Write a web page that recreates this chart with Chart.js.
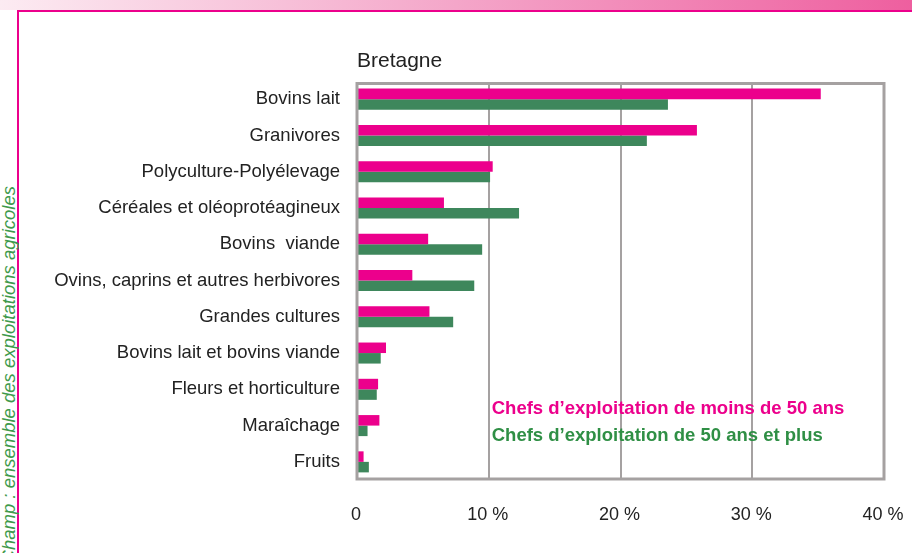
<!DOCTYPE html>
<html>
<head>
<meta charset="utf-8">
<script src="https://cdn.jsdelivr.net/npm/chart.js@4/dist/chart.umd.min.js"></script>
<style>
  html, body { margin: 0; padding: 0; background: #fff; }
  body { width: 912px; height: 553px; position: relative; overflow: hidden; font-family: "Liberation Sans", Arial, sans-serif; }
  .strip { position: absolute; left: 0; top: 0; width: 912px; height: 10px; background: linear-gradient(to right, #fcebf2, #f4a6c9 50%, #ee5f9f); }
  .frame { position: absolute; left: 17px; top: 10px; width: 920px; height: 600px; border-left: 2px solid #ec008c; border-top: 2px solid #ec008c; }
  .champ { position: absolute; left: 0px; top: 186px; writing-mode: vertical-rl; transform: rotate(180deg); font-style: italic; font-size: 18.5px; line-height: 18px; color: #3f9a4c; white-space: nowrap; }
  #wrap { position: absolute; left: 0; top: 0; width: 912px; height: 553px; }
</style>
</head>
<body>
<div class="strip"></div>
<div class="frame"></div>
<div class="champ">Champ : ensemble des exploitations agricoles</div>
<div id="wrap"><canvas id="chart"></canvas></div>
<script>
const categories = [
  'Bovins lait',
  'Granivores',
  'Polyculture-Polyélevage',
  'Céréales et oléoprotéagineux',
  'Bovins  viande',
  'Ovins, caprins et autres herbivores',
  'Grandes cultures',
  'Bovins lait et bovins viande',
  'Fleurs et horticulture',
  'Maraîchage',
  'Fruits'
];
const moins50 = [35.2, 25.8, 10.3, 6.6, 5.4, 4.2, 5.5, 2.2, 1.6, 1.7, 0.5];
const plus50 = [23.6, 22.0, 10.1, 12.3, 9.5, 8.9, 7.3, 1.8, 1.5, 0.8, 0.9];
const xTicks = [0, 10, 20, 30, 40];
const chartTitle = 'Bretagne';
const seriesNames = ["Chefs d’exploitation de moins de 50 ans", "Chefs d’exploitation de 50 ans et plus"];

const PINK = '#ec008c';
const GREEN = '#3e875c';
const GRID = '#a5a1a1';
const FONT = '"Liberation Sans", Arial, sans-serif';

// frame, title and in-plot legend
const extras = {
  id: 'extras',
  afterDatasetsDraw(chart) {
    const ctx = chart.ctx;
    const a = chart.chartArea;
    const x = chart.scales.x;
    const top = a.top + 2.5, bottom = a.bottom - 1;
    ctx.save();
    // trim grid lines poking above the frame
    ctx.fillStyle = '#fff';
    ctx.fillRect(a.left - 2, a.top - 1, a.right - a.left + 4, 2.5);
    ctx.strokeStyle = GRID;
    ctx.lineWidth = 3;
    ctx.strokeRect(a.left, top, a.right - a.left, bottom - top);

    ctx.fillStyle = '#222';
    ctx.font = '21px ' + FONT;
    ctx.textBaseline = 'middle';
    ctx.textAlign = 'left';
    ctx.fillText(chartTitle, a.left, top - 22);

    ctx.font = 'bold 18.5px ' + FONT;
    const lx = x.getPixelForValue(10) + 3;
    ctx.fillStyle = PINK;
    ctx.fillText(seriesNames[0], lx, top + 325);
    ctx.fillStyle = '#2f8f45';
    ctx.fillText(seriesNames[1], lx, top + 352);
    ctx.restore();
  }
};

new Chart(document.getElementById('chart'), {
  type: 'bar',
  data: {
    labels: categories,
    datasets: [{
      label: seriesNames[0],
      data: moins50,
      backgroundColor: PINK,
      borderWidth: 0,
      barPercentage: 1,
      categoryPercentage: 0.58
    }, {
      label: seriesNames[1],
      data: plus50,
      backgroundColor: GREEN,
      borderWidth: 0,
      barPercentage: 1,
      categoryPercentage: 0.58
    }]
  },
  options: {
    indexAxis: 'y',
    responsive: true,
    maintainAspectRatio: false,
    animation: false,
    layout: {
      padding: { left: 0, right: 28, top: 81, bottom: 0 }
    },
    plugins: {
      legend: { display: false },
      title: { display: false },
      tooltip: { enabled: false }
    },
    scales: {
      x: {
        min: 0,
        max: 40,
        afterBuildTicks(scale) {
          scale.ticks = xTicks.map(v => ({ value: v }));
        },
        afterFit(scale) {
          scale.height = 73;
          scale.paddingRight = 0;
          scale.paddingLeft = 0;
        },
        grid: {
          color: GRID,
          lineWidth: 2,
          drawTicks: false
        },
        border: { display: false },
        ticks: {
          padding: 24,
          labelOffset: -1,
          color: '#222',
          font: { family: FONT, size: 18 },
          callback: v => v === 0 ? '0' : v + ' %'
        }
      },
      y: {
        afterFit(scale) {
          scale.width = 357;
        },
        grid: { display: false, drawTicks: false },
        border: { display: false },
        ticks: {
          padding: 17,
          color: '#222',
          font: { family: FONT, size: 18.5 }
        }
      }
    }
  },
  plugins: [extras]
});
</script>
</body>
</html>
